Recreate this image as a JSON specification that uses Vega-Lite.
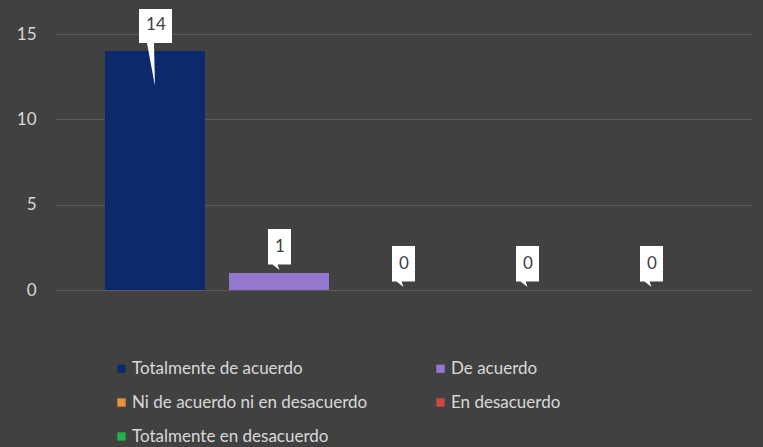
{
  "$schema": "https://vega.github.io/schema/vega-lite/v6.json",
  "width": 696,
  "height": 256,
  "autosize": "none",
  "padding": {"left": 55, "top": 34, "right": 12, "bottom": 157},
  "background": "#414141",
  "config": {
    "view": {"stroke": null},
    "font": "Lato",
    "axis": {"labelFont": "Lato", "labelColor": "#d9d9d9", "labelFontSize": 17, "gridColor": "#5a5a5a", "gridWidth": 1, "domain": false, "ticks": false, "title": null},
    "legend": {"labelFont": "Lato", "labelColor": "#d9d9d9", "labelFontSize": 17, "labelLimit": 0}
  },
  "data": {
    "values": [
      {"categoria": "Totalmente de acuerdo", "valor": 14},
      {"categoria": "De acuerdo", "valor": 1},
      {"categoria": "Ni de acuerdo ni en desacuerdo", "valor": 0},
      {"categoria": "En desacuerdo", "valor": 0},
      {"categoria": "Totalmente en desacuerdo", "valor": 0}
    ]
  },
  "encoding": {
    "x": {
      "field": "categoria", "type": "nominal", "sort": null,
      "scale": {"paddingInner": 0.1935, "paddingOuter": 0.403},
      "axis": null
    },
    "y": {
      "field": "valor", "type": "quantitative",
      "scale": {"domain": [0, 15], "nice": false},
      "axis": {"values": [0, 5, 10, 15], "labelPadding": 19, "grid": true}
    }
  },
  "layer": [
    {
      "mark": {"type": "bar", "strokeWidth": 0},
      "encoding": {
        "color": {
          "field": "categoria", "type": "nominal",
          "scale": {
            "domain": ["Totalmente de acuerdo", "De acuerdo", "Ni de acuerdo ni en desacuerdo", "En desacuerdo", "Totalmente en desacuerdo"],
            "range": ["#0c2a6b", "#9478cf", "#e8913a", "#d04545", "#22b14c"]
          },
          "legend": {
            "title": null, "orient": "none", "legendX": 58, "legendY": 326,
            "direction": "horizontal", "columns": 2, "columnPadding": 64, "rowPadding": 16,
            "symbolType": "square", "symbolSize": 70, "symbolStrokeWidth": 0, "labelOffset": 2
          }
        }
      }
    },
    {
      "mark": {"type": "point", "filled": true, "fill": "#ffffff", "opacity": 1, "strokeWidth": 0, "size": 10000},
      "encoding": {
        "shape": {
          "condition": {"test": "datum.valor > 9", "value": "M-0.32,-0.84 H0.34 V-0.16 H-0.02 L0,0.7 L-0.16,-0.16 H-0.32 Z"},
          "value": "M-0.22,-0.88 H0.24 V-0.17 H-0.03 L0.01,-0.06 L-0.13,-0.17 H-0.22 Z"
        }
      }
    },
    {
      "mark": {"type": "text", "fontSize": 17, "color": "#404040", "baseline": "middle", "align": "center", "yOffset": -26, "dx": 1},
      "encoding": {"text": {"field": "valor", "type": "quantitative"}}
    }
  ]
}
